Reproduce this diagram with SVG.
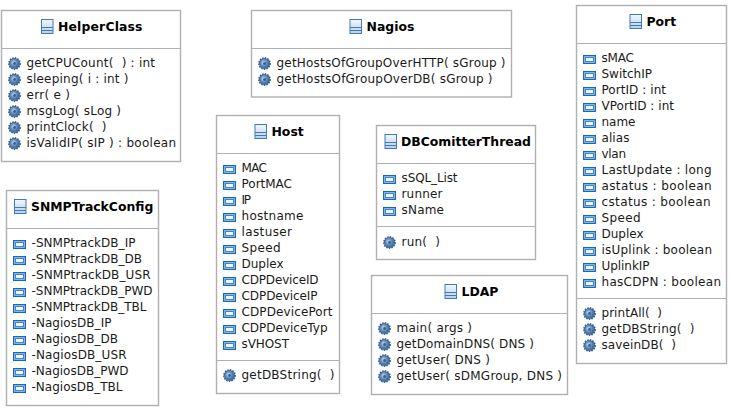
<svg xmlns="http://www.w3.org/2000/svg" width="733" height="410" viewBox="0 0 733 410">
<style>
.box{fill:#fff;stroke:#b0b0b0;stroke-width:1.4}
.div{stroke:#b0b0b0;stroke-width:1.2;fill:none}
text{font-family:"DejaVu Sans",sans-serif;font-size:12px;fill:#1a1a1a;white-space:pre}
.t{font-weight:bold;font-size:12.4px;fill:#000}
</style>
<defs>
<linearGradient id="cg" x1="0" y1="0" x2="0" y2="1"><stop offset="0" stop-color="#f4f7fb"/><stop offset="1" stop-color="#b9cfe6"/></linearGradient>
<radialGradient id="og" cx="0.4" cy="0.4" r="0.7"><stop offset="0" stop-color="#d5e2f0"/><stop offset="0.45" stop-color="#6f93bd"/><stop offset="1" stop-color="#2f5c92"/></radialGradient>
<g id="cls"><rect x="0.5" y="0.5" width="11.5" height="14" fill="url(#cg)" stroke="#3f7cb5"/><path d="M0.5 8.5H12M0.5 11.5H12" stroke="#3f7cb5" fill="none"/></g>
<g id="fld"><rect x="0.6" y="1.6" width="11.8" height="7.8" fill="#a9cbe9" stroke="#1a66b8" stroke-width="1.2"/><rect x="2.5" y="3.5" width="8" height="4" fill="#eef5fb" stroke="#3f86cc"/></g>
<g id="op"><circle cx="6.5" cy="6.5" r="5.6" fill="#4d79ac" stroke="#34608f" stroke-width="1.6" stroke-dasharray="1.5 1.1"/><circle cx="6.5" cy="6.5" r="4.4" fill="url(#og)"/><circle cx="6.5" cy="6.5" r="1.4" fill="#385f8e"/></g>
</defs>
<g id="connectors"/>
<g id="HelperClass"><rect class="box" x="1.5" y="10.5" width="179" height="151"/><path class="div" d="M1.5 48.500H180.500"/><use href="#cls" x="41" y="19"/><text class="t" x="58" y="31" textLength="84.500">HelperClass</text>
<use href="#op" x="8" y="57"/><text x="26.500" y="67" textLength="128.500">getCPUCount(  ) : int</text>
<use href="#op" x="8" y="73"/><text x="26.500" y="83" textLength="102">sleeping( i : int )</text>
<use href="#op" x="8" y="89"/><text x="26.500" y="99" textLength="43.500">err( e )</text>
<use href="#op" x="8" y="105"/><text x="26.500" y="115" textLength="94.500">msgLog( sLog )</text>
<use href="#op" x="8" y="121"/><text x="26.500" y="131" textLength="80">printClock(  )</text>
<use href="#op" x="8" y="137"/><text x="26.500" y="147" textLength="149.500">isValidIP( sIP ) : boolean</text></g>
<g id="Nagios"><rect class="box" x="251.5" y="10.5" width="260" height="86.5"/><path class="div" d="M251.500 48.500H511.500"/><use href="#cls" x="349.500" y="19"/><text class="t" x="366.500" y="31" textLength="48">Nagios</text>
<use href="#op" x="258" y="57"/><text x="276.500" y="67" textLength="229">getHostsOfGroupOverHTTP( sGroup )</text>
<use href="#op" x="258" y="73"/><text x="276.500" y="83" textLength="216">getHostsOfGroupOverDB( sGroup )</text></g>
<g id="Port"><rect class="box" x="576.5" y="5.5" width="150" height="358"/><path class="div" d="M576.500 43.500H726.500"/><use href="#cls" x="629.500" y="14"/><text class="t" x="646.500" y="26">Port</text>
<use href="#fld" x="583" y="54"/><text x="601.500" y="62" textLength="32.500">sMAC</text>
<use href="#fld" x="583" y="70"/><text x="601.500" y="78" textLength="50.500">SwitchIP</text>
<use href="#fld" x="583" y="86"/><text x="601.500" y="94" textLength="64.500">PortID : int</text>
<use href="#fld" x="583" y="102"/><text x="601.500" y="110" textLength="72.500">VPortID : int</text>
<use href="#fld" x="583" y="118"/><text x="601.500" y="126" textLength="34">name</text>
<use href="#fld" x="583" y="134"/><text x="601.500" y="142" textLength="28">alias</text>
<use href="#fld" x="583" y="150"/><text x="601.500" y="158" textLength="24.500">vlan</text>
<use href="#fld" x="583" y="166"/><text x="601.500" y="174" textLength="110">LastUpdate : long</text>
<use href="#fld" x="583" y="182"/><text x="601.500" y="190" textLength="110">astatus : boolean</text>
<use href="#fld" x="583" y="198"/><text x="601.500" y="206" textLength="109">cstatus : boolean</text>
<use href="#fld" x="583" y="214"/><text x="601.500" y="222" textLength="39">Speed</text>
<use href="#fld" x="583" y="230"/><text x="601.500" y="238" textLength="42">Duplex</text>
<use href="#fld" x="583" y="246"/><text x="601.500" y="254" textLength="110.500">isUplink : boolean</text>
<use href="#fld" x="583" y="262"/><text x="601.500" y="270" textLength="48">UplinkIP</text>
<use href="#fld" x="583" y="278"/><text x="601.500" y="286" textLength="119.500">hasCDPN : boolean</text>
<path class="div" d="M576.500 298.500H726.500"/>
<use href="#op" x="583" y="307"/><text x="601.500" y="317" textLength="60.500">printAll(  )</text>
<use href="#op" x="583" y="323"/><text x="601.500" y="333" textLength="93">getDBString(  )</text>
<use href="#op" x="583" y="339"/><text x="601.500" y="349" textLength="74.500">saveinDB(  )</text></g>
<g id="Host"><rect class="box" x="216.5" y="115.5" width="123" height="278"/><path class="div" d="M216.500 153.500H339.500"/><use href="#cls" x="254.500" y="124"/><text class="t" x="271.500" y="136">Host</text>
<use href="#fld" x="223" y="164"/><text x="241.500" y="172" textLength="25.500">MAC</text>
<use href="#fld" x="223" y="180"/><text x="241.500" y="188" textLength="50.500">PortMAC</text>
<use href="#fld" x="223" y="196"/><text x="241.500" y="204" textLength="9.500">IP</text>
<use href="#fld" x="223" y="212"/><text x="241.500" y="220" textLength="62">hostname</text>
<use href="#fld" x="223" y="228"/><text x="241.500" y="236" textLength="50.500">lastuser</text>
<use href="#fld" x="223" y="244"/><text x="241.500" y="252" textLength="39">Speed</text>
<use href="#fld" x="223" y="260"/><text x="241.500" y="268" textLength="42">Duplex</text>
<use href="#fld" x="223" y="276"/><text x="241.500" y="284" textLength="77">CDPDeviceID</text>
<use href="#fld" x="223" y="292"/><text x="241.500" y="300" textLength="76">CDPDeviceIP</text>
<use href="#fld" x="223" y="308"/><text x="241.500" y="316" textLength="91">CDPDevicePort</text>
<use href="#fld" x="223" y="324"/><text x="241.500" y="332" textLength="86">CDPDeviceTyp</text>
<use href="#fld" x="223" y="340"/><text x="241.500" y="348" textLength="47.500">sVHOST</text>
<path class="div" d="M216.500 360.500H339.500"/>
<use href="#op" x="223" y="369"/><text x="241.500" y="379" textLength="93">getDBString(  )</text></g>
<g id="DBComitterThread"><rect class="box" x="376.5" y="125.5" width="159" height="134"/><path class="div" d="M376.500 163.500H535.500"/><use href="#cls" x="384.500" y="134"/><text class="t" x="401" y="146">DBComitterThread</text>
<use href="#fld" x="383" y="174"/><text x="401.500" y="182" textLength="56">sSQL_List</text>
<use href="#fld" x="383" y="190"/><text x="401.500" y="198" textLength="41">runner</text>
<use href="#fld" x="383" y="206"/><text x="401.500" y="214" textLength="42.500">sName</text>
<path class="div" d="M376.500 226.500H535.500"/>
<use href="#op" x="383" y="236"/><text x="401.500" y="246" textLength="38.500">run(  )</text></g>
<g id="LDAP"><rect class="box" x="371.5" y="275.5" width="196" height="119"/><path class="div" d="M371.500 313.500H567.500"/><use href="#cls" x="444.500" y="284"/><text class="t" x="461.500" y="296">LDAP</text>
<use href="#op" x="378" y="322"/><text x="396.500" y="332" textLength="75.500">main( args )</text>
<use href="#op" x="378" y="338"/><text x="396.500" y="348" textLength="137.500">getDomainDNS( DNS )</text>
<use href="#op" x="378" y="354"/><text x="396.500" y="364" textLength="93.500">getUser( DNS )</text>
<use href="#op" x="378" y="370"/><text x="396.500" y="380" textLength="165.500">getUser( sDMGroup, DNS )</text></g>
<g id="SNMPTrackConfig"><rect class="box" x="6.5" y="190.5" width="152" height="215"/><path class="div" d="M6.500 228.500H158.500"/><use href="#cls" x="14" y="199"/><text class="t" x="31" y="211">SNMPTrackConfig</text>
<use href="#fld" x="13" y="239"/><text x="31.500" y="247" textLength="104">-SNMPtrackDB_IP</text>
<use href="#fld" x="13" y="255"/><text x="31.500" y="263" textLength="110.500">-SNMPtrackDB_DB</text>
<use href="#fld" x="13" y="271"/><text x="31.500" y="279" textLength="119">-SNMPtrackDB_USR</text>
<use href="#fld" x="13" y="287"/><text x="31.500" y="295" textLength="121">-SNMPtrackDB_PWD</text>
<use href="#fld" x="13" y="303"/><text x="31.500" y="311" textLength="115">-SNMPtrackDB_TBL</text>
<use href="#fld" x="13" y="319"/><text x="31.500" y="327" textLength="80">-NagiosDB_IP</text>
<use href="#fld" x="13" y="335"/><text x="31.500" y="343" textLength="86.500">-NagiosDB_DB</text>
<use href="#fld" x="13" y="351"/><text x="31.500" y="359" textLength="95">-NagiosDB_USR</text>
<use href="#fld" x="13" y="367"/><text x="31.500" y="375" textLength="97">-NagiosDB_PWD</text>
<use href="#fld" x="13" y="383"/><text x="31.500" y="391" textLength="91">-NagiosDB_TBL</text></g>
</svg>
